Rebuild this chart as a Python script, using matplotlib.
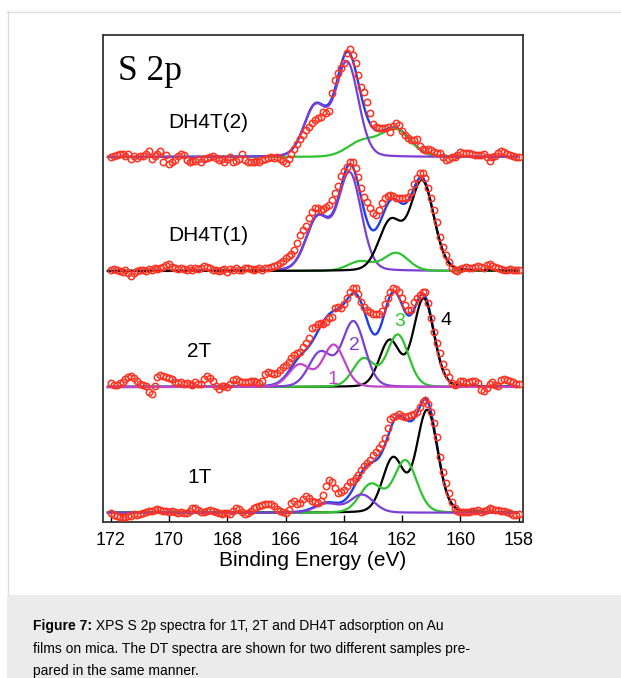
import numpy as np
import matplotlib
matplotlib.use("Agg")
import matplotlib.pyplot as plt
from matplotlib.lines import Line2D
from matplotlib.patches import Rectangle

# binding energy of the measured points (eV), 0.1 eV steps
energy = np.round(np.arange(172.0, 157.95, -0.1), 1)

int_1t = [
    -0.7, -2.7, -3.7, -4.3, -4.7, -4.3, -3.7, -3, -1.3, -2,
    -1.3, -0.3, 0.7, 1.3, 2, 2.7, 3.3, 2.7, 2, 1.3,
    1, 2, 1, 0, 1, -0.7, 0, 1.7, 4.7, 4.3,
    2.7, 1, 1, 2, 2.7, 1.7, 0.7, -0.3, -1.3, -0.7,
    0, -1, 2, 5, 4, 0.7, -1.3, 0, 1.7, 4.3,
    6, 7, 7.7, 8.3, 8.3, 8.3, 7, 3.7, 1.7, 0.3,
    -0.3, 2.7, 9.3, 11.7, 8.3, 9.3, 13.7, 17, 14.3, 11.7,
    11, 9.7, 11.7, 17.7, 27, 32.7, 30.3, 24.3, 19.7, 20.3,
    23, 27, 30.3, 31.7, 35, 37.7, 42.3, 46.3, 49.3, 53,
    57.7, 61, 65, 69, 75, 85, 93.7, 95.3, 97, 98.3,
    97, 96, 96.3, 97.7, 99, 101, 105.7, 111, 112.3, 109,
    101, 89.3, 76, 56, 40.3, 29.3, 19.3, 11, 5, 1.7,
    0.3, 0.3, 1, 1, 1.7, 1.7, 2.3, 1, 1.7, 3,
    4.3, 3.7, 2.7, 2.3, 2, 1.3, 0.7, -0.7, -2.7, -2.7,
    -1.3,
]
int_2t = [
    3.7, 2, 2.3, 3.7, 5.3, 8, 9.7, 10.7, 9, 6,
    3, 2.3, 1.3, -4.7, -7, 0.7, 9.7, 12, 10.7, 9.7,
    9.3, 8, 5.3, 4, 4.7, 3.3, 3.7, 3.3, 2, 4.7,
    3.3, 3, 8, 11.3, 9.3, 6.3, 1.3, -2, 1.3, 0.7,
    -0.3, 3, 7.3, 8, 6, 4.7, 5.3, 4.7, 6.3, 6,
    4.7, 3.7, 6, 12.7, 15.3, 13.7, 12.7, 13.7, 17, 20.3,
    22, 24.7, 29.3, 32, 33.7, 35.3, 40.3, 43.7, 49.3, 58.7,
    60.3, 62.7, 64.3, 63, 64.7, 68.7, 70, 78.7, 80, 78.7,
    82.7, 88.7, 94.7, 99.3, 99.3, 92.7, 84.7, 79.7, 76.7, 74.7,
    73, 72.7, 72.7, 76, 82.7, 88.7, 95.3, 98.7, 98, 94.7,
    88.7, 82, 77, 77.3, 84.7, 89.3, 92, 95.3, 94.7, 84,
    69.3, 55.3, 43.7, 33.7, 22.7, 15.3, 10.3, 3.7, 2, 3.3,
    6, 6, 3.7, 5.3, 6, 6, 3.7, -3, -4, -0.7,
    2.7, 4.7, 2, 1.3, 7.3, 8, 7.3, 6, 4.7, 3,
    2.7,
]
int_dh4t_1 = [
    1.3, 2, 1.3, 0, -1, 1.3, -2, -4.7, -2, 0,
    1.3, 0.7, 0, 2.3, 1.3, 3, 2.3, 3.3, 4, 6,
    7.3, 4, 3.3, 2.3, 3.3, 2, 1.3, 3.3, 0.7, 3.3,
    2, 3.3, 5.3, 4, 3.3, 1.3, 0.7, 0, 0.7, 2,
    -0.7, 2, 0.7, 2.7, 0.7, 1.3, 2.7, 3.3, 2, 1,
    2, 2.7, 1, 2.7, 3.3, 4.3, 5.3, 6, 7.7, 10,
    12.7, 15.3, 16.7, 21, 27.7, 36, 41, 45.3, 52.7, 58.7,
    63.3, 62.7, 61, 62, 64.3, 66, 71, 77.7, 85.3, 95.3,
    100, 104.3, 109.3, 108.7, 103.3, 94.3, 82.7, 74.3, 68.7, 63.3,
    57.7, 56, 61, 67.7, 73.3, 75.3, 76, 74.7, 73.3, 72.7,
    72.7, 72.7, 74.3, 78.7, 86.7, 92.7, 97.7, 97.7, 92.7, 83.3,
    73.3, 61, 49.3, 34.3, 24.3, 16, 9.3, 3.3, 1, 0,
    2, 2.7, 4.3, 3.3, 2.7, 4.3, 5.3, 4.3, 3.3, 6,
    6.7, 5.3, 4.3, 3.3, 2, 1, 1.3, 2, 0.7, 1.3,
    0.7,
]
int_dh4t_2 = [
    0, 1.3, 2.3, 2.7, 3.3, 0.7, 2.7, -1.7, 0.7, -0.7,
    0.7, 1.3, 2.7, 6, -1.7, 0.7, 3.3, 6, -5, 1.7,
    -7.3, -5, -3.3, 0.7, 2.7, 1.7, -2.7, -5, -4.3, -4,
    -2, -5, -2, -0.7, 0, 0.7, -0.7, -3.3, -1.7, -5,
    -1.7, 0, -5, -4, -2, 2.7, -2.7, -5, -5, -4.7,
    -3.7, -5.3, -3, -2.3, -1.3, -0.3, -1.3, 0.3, -2.3, -3.7,
    -5.7, -2.3, 3, 7.7, 12.7, 17.7, 21.7, 27, 30.3, 33.7,
    37, 39, 40.3, 45, 43.7, 46.3, 64.3, 77, 84.3, 88.7,
    93.7, 103.7, 107.7, 102, 93.7, 82, 70.3, 65.3, 55.3, 43.7,
    33, 29.7, 28.7, 28.7, 29, 29.7, 25, 31, 34.3, 32,
    26.3, 22, 18.7, 17, 17, 17.7, 11, 7.7, 7, 7.7,
    7, 5.3, 4.3, 3.7, 0.3, -3, -2.3, -0.3, 0.3, 2,
    5.3, 4.3, 3.7, 3.7, 3, 2, 2, 1.7, 2.7, 0.3,
    -3.7, 0.3, 1, 3.7, 6, 5, 2.7, 1.7, 0.7, 0,
    0,
]

# fitted doublets per species: ([2p3/2, 2p1/2] positions, [heights], FWHM)
# species 1..4 as labelled in the 2T spectrum
fit_1t = {
    "4": ([161.14, 162.31], [102, 54], 0.85),
    "3": ([161.89, 163.07], [52, 28], 0.92),
    "2": ([163.38, 164.58], [18, 9], 0.95),
}
fit_2t = {
    "4": ([161.26, 162.43], [88, 46], 0.83),
    "3": ([162.15, 163.32], [52, 28], 0.87),
    "2": ([163.67, 164.81], [65, 34], 0.92),
    "1": ([164.35, 165.52], [42, 22], 0.88),
}
fit_dh4t_1 = {
    "2": ([163.80, 164.90], [97, 52], 0.94),
    "3": ([162.21, 163.44], [18, 9.5], 1.0),
    "4": ([161.31, 162.40], [89, 49], 0.94),
}
fit_dh4t_2 = {
    "3": ([162.23, 163.38], [27, 15], 1.2),
    "2": ([163.89, 164.98], [94, 50], 0.92),
}

sample_names = ["1T", "2T", "DH4T(1)", "DH4T(2)"]

# --- style / layout ---
RED = "#ff3322"
BLUE = "#1f3fe6"
SPECIES_COLORS = {"1": "#c444c8", "2": "#7b3fd6", "3": "#2fc42f", "4": "#000000"}
OFFSETS = [9.3, 135, 251, 365]
W, H = 621, 678
CAP_SIZE = 10


def pseudo_voigt(x, center, height, fwhm, eta=0.12):
    u = (x - center) / fwhm
    gauss = np.exp(-4 * np.log(2) * u ** 2)
    lorentz = 1.0 / (1.0 + 4 * u ** 2)
    return height * ((1 - eta) * gauss + eta * lorentz)


def doublet(x, positions, heights, fwhm):
    return sum(pseudo_voigt(x, c, h, fwhm) for c, h in zip(positions, heights))


plt.rcParams["font.family"] = ["Liberation Sans", "DejaVu Sans"]

fig = plt.figure(figsize=(W / 100, H / 100), dpi=100)
ax = fig.add_axes([103 / W, 156 / H, 420 / W, 487 / H])

x_fit = np.linspace(172.1, 158.05, 800)
spectra = [
    (int_1t, fit_1t),
    (int_2t, fit_2t),
    (int_dh4t_1, fit_dh4t_1),
    (int_dh4t_2, fit_dh4t_2),
]
for (data, fit), off in zip(spectra, OFFSETS):
    envelope = sum(doublet(x_fit, *p) for p in fit.values())
    ax.plot(x_fit, off + envelope, color=BLUE, lw=1.7, zorder=2)
    for key, params in fit.items():
        ax.plot(x_fit, off + doublet(x_fit, *params), color=SPECIES_COLORS[key],
                lw=1.6, zorder=3)
    ax.plot(energy, off + np.asarray(data), "o", mfc="none", mec=RED,
            ms=4.6, mew=1.1, zorder=4)

ax.set_xlim(172.27, 157.85)
ax.set_ylim(0, 487)
ax.set_xticks(np.arange(172, 157, -2))
ax.set_yticks([])
ax.tick_params(axis="x", direction="in", length=5, width=1, labelsize=13, pad=7)
ax.set_xlabel("Binding Energy (eV)", fontsize=15, labelpad=2)
for sp in ax.spines.values():
    sp.set_linewidth(1.3)
    sp.set_color("#333333")


def ax_pos(px, py):
    return (px - 103) / 420, (522 - py) / 487


ax.text(*ax_pos(118, 80), "S 2p", family="Liberation Serif", fontsize=25.5,
        transform=ax.transAxes, va="baseline")
label_px = [(187, 483), (187, 357), (168, 241), (168, 128)]
for name, (px, py) in zip(sample_names, label_px):
    ax.text(*ax_pos(px, py), name, fontsize=15, transform=ax.transAxes,
            va="baseline")
number_px = [("1", 333, 384), ("2", 354, 350), ("3", 400, 326), ("4", 446, 325)]
for key, px, py in number_px:
    ax.text(*ax_pos(px, py), key, fontsize=14, color=SPECIES_COLORS[key],
            transform=ax.transAxes, ha="center", va="baseline")

# page frame and caption box
fig.add_artist(Line2D([7.5 / W, 7.5 / W], [83 / H, (H - 11) / H],
                      transform=fig.transFigure, color="#dcdcdc", lw=1))
fig.add_artist(Line2D([7 / W, 1], [(H - 11.5) / H] * 2,
                      transform=fig.transFigure, color="#dcdcdc", lw=1))
fig.add_artist(Rectangle((7 / W, 0), 1 - 7 / W, 83 / H, transform=fig.transFigure,
                         facecolor="#ebebeb", edgecolor="none", zorder=0))

lead = fig.text(33 / W, (H - 630) / H, "Figure 7:", fontsize=CAP_SIZE,
                weight="bold", va="baseline")
ax.annotate(" XPS S 2p spectra for 1T, 2T and DH4T adsorption on Au",
            xy=(1, 0), xycoords=lead, va="bottom", fontsize=CAP_SIZE,
            annotation_clip=False)
fig.text(33 / W, (H - 653) / H,
         "films on mica. The DT spectra are shown for two different samples pre-",
         fontsize=CAP_SIZE, va="baseline")
fig.text(33 / W, (H - 675) / H, "pared in the same manner.",
         fontsize=CAP_SIZE, va="baseline")

fig.savefig("out.png", dpi=100)
